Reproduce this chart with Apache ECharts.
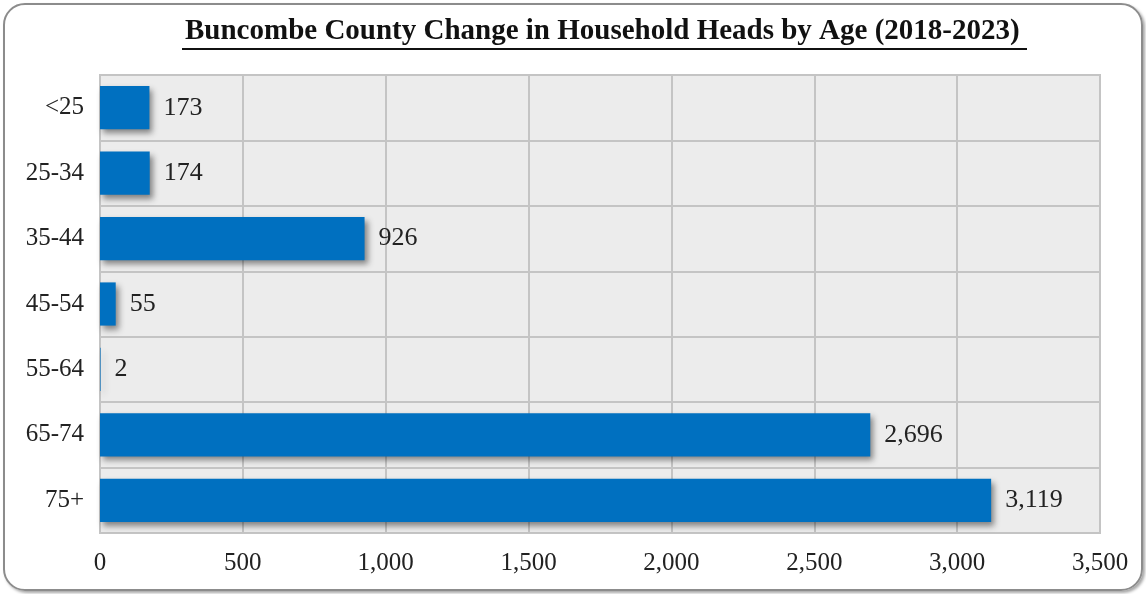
<!DOCTYPE html>
<html>
<head>
<meta charset="utf-8">
<script src="https://cdn.jsdelivr.net/npm/echarts@6/dist/echarts.min.js"></script>
<style>
html,body{margin:0;padding:0;background:#fff;}
#frame{position:absolute;left:3px;top:3px;width:1136px;height:584px;border:2px solid #8c8c8c;border-radius:22px;box-shadow:2px 2px 3px rgba(0,0,0,0.35);}
#container{position:absolute;left:0;top:0;width:1146px;height:594px;}
</style>
</head>
<body>
<div id="frame"></div>
<div id="container"></div>
<script>
var ageGroups = ['<25', '25-34', '35-44', '45-54', '55-64', '65-74', '75+'];
var changeValues = [173, 174, 926, 55, 2, 2696, 3119];
var titleText = 'Buncombe County Change in Household Heads by Age (2018-2023)';

var dom = document.getElementById('container');
var myChart = echarts.init(dom);
var serif = '"Liberation Serif", "DejaVu Serif", serif';

var option = {
    animation: false,
    graphic: [
        {
            type: 'text',
            left: 185,
            top: 17,
            style: {
                text: titleText,
                font: 'bold 29px ' + serif,
                fill: '#111'
            }
        },
        {
            type: 'rect',
            left: 182,
            top: 48,
            shape: {width: 845, height: 2},
            style: {fill: '#111'}
        }
    ],
    grid: {
        left: 100,
        right: 46,
        top: 75,
        bottom: 61,
        show: true,
        backgroundColor: '#ececec',
        borderColor: '#c4c4c4',
        borderWidth: 2
    },
    xAxis: {
        type: 'value',
        min: 0,
        max: 3500,
        interval: 500,
        axisLine: {show: false},
        axisTick: {show: false},
        splitLine: {lineStyle: {color: '#c4c4c4', width: 2}},
        axisLabel: {
            margin: 18,
            color: '#222',
            fontFamily: serif,
            fontSize: 25,
            formatter: function (v) { return v.toLocaleString('en-US'); }
        }
    },
    yAxis: {
        type: 'category',
        inverse: true,
        data: ageGroups,
        axisLine: {show: false},
        axisTick: {show: false},
        splitLine: {show: true, lineStyle: {color: '#c4c4c4', width: 2}},
        axisLabel: {
            margin: 16,
            color: '#222',
            fontFamily: serif,
            fontSize: 25
        }
    },
    series: [{
        type: 'bar',
        data: changeValues,
        barCategoryGap: '34%',
        itemStyle: {
            color: '#0070c0',
            shadowColor: 'rgba(0,0,0,0.45)',
            shadowBlur: 6,
            shadowOffsetX: 3,
            shadowOffsetY: 4
        },
        label: {
            show: true,
            position: 'right',
            distance: 14,
            color: '#222',
            fontFamily: serif,
            fontSize: 26,
            formatter: function (p) { return p.value.toLocaleString('en-US'); }
        }
    }]
};
myChart.setOption(option);
</script>
</body>
</html>
